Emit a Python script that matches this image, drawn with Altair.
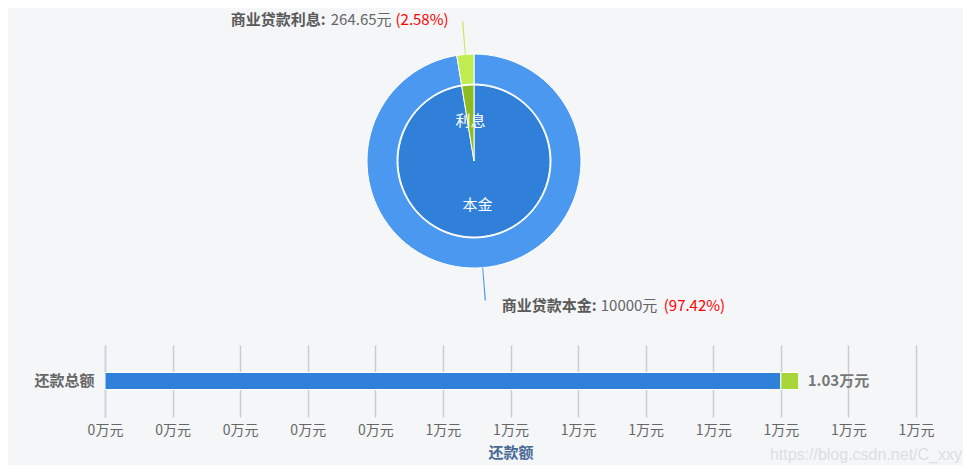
import math
import altair as alt
import pandas as pd

# ---------------- data ----------------
names = ["商业贷款本金", "商业贷款利息"]
short_names = ["本金", "利息"]
amounts = [10000, 264.65]
bar_category = "还款总额"
tick_values = [0, 1000, 2000, 3000, 4000, 5000, 6000, 7000, 8000, 9000, 10000, 11000, 12000]
axis_max = 12000
watermark = "https://blog.csdn.net/C_xxy"

# ---------------- styles ----------------
FONT = "Noto Sans CJK SC"
outer_colors = ["#4a98ef", "#c1ec52"]
inner_colors = ["#307fd8", "#8cbb22"]
bar_colors = ["#307fd8", "#a6d63a"]

total = sum(amounts)
starts, ends = [], []
acc = 0.0
for a in amounts:
    starts.append(acc)
    acc += a
    ends.append(acc)

eps = total * 0.0007
df = pd.DataFrame({
    "name": names,
    "short": short_names,
    "amount": amounts,
    "start": starts,
    "end": ends,
    "mid": [(s + e) / 2 for s, e in zip(starts, ends)],
    "name_txt": [n + ":" for n in names],
    "val_txt": [f"{a:g}元" for a in amounts],
    "pct_txt": [f"({a / total * 100:.2f}%)" for a in amounts],
    "cat": [bar_category] * len(names),
})
df["lead0"] = df["mid"] - eps
df["lead1"] = df["mid"] + eps

theta_scale = alt.Scale(domain=[0, total], range=[0, 2 * math.pi])
base = alt.Chart(df)

outer = base.mark_arc(outerRadius=107, innerRadius=77, stroke="white", strokeWidth=1).encode(
    theta=alt.Theta("start:Q", scale=theta_scale),
    theta2="end:Q",
    color=alt.Color("name:N", scale=alt.Scale(domain=names, range=outer_colors), legend=None),
)
inner = base.mark_arc(outerRadius=76, innerRadius=0, stroke="white", strokeWidth=1).encode(
    theta=alt.Theta("start:Q", scale=theta_scale),
    theta2="end:Q",
    color=alt.Color("name:N", scale=alt.Scale(domain=names, range=inner_colors), legend=None),
)
inner_labels = base.mark_text(radius=42, color="white", fontSize=15, font=FONT, dy=2).encode(
    theta=alt.Theta("mid:Q", scale=theta_scale),
    text="short:N",
)
leaders = base.mark_arc(outerRadius=140, innerRadius=107).encode(
    theta=alt.Theta("lead0:Q", scale=theta_scale),
    theta2="lead1:Q",
    color=alt.Color("name:N", scale=alt.Scale(domain=names, range=outer_colors), legend=None),
)

layers = [outer, inner, inner_labels, leaders]

# label piece layout per slice: (anchor radius, align, [(field, dx, color, weight)])
label_layout = {
    names[0]: (145, "left", [("name_txt", 16, "#5a5a5a", "bold"),
                             ("val_txt", 115, "#666666", "normal"),
                             ("pct_txt", 178, "#ff0000", "normal")]),
    names[1]: (141, "right", [("pct_txt", -14, "#ff0000", "normal"),
                              ("val_txt", -71, "#666666", "normal"),
                              ("name_txt", -137, "#5a5a5a", "bold")]),
}
for nm, (rad, al, pieces) in label_layout.items():
    for field, dx, col, wt in pieces:
        layers.append(
            base.transform_filter(alt.datum.name == nm).mark_text(
                radius=rad, align=al, baseline="middle", dx=dx, color=col,
                fontWeight=wt, fontSize=15, font=FONT,
            ).encode(
                theta=alt.Theta("mid:Q", scale=theta_scale),
                text=f"{field}:N",
            )
        )

pie = alt.layer(*layers).resolve_scale(color="independent").properties(width=738, height=296)

# ---------------- bar ----------------
bar = base.mark_bar(size=17, stroke="white", strokeWidth=1).encode(
    y=alt.Y("cat:N", axis=alt.Axis(title=None, labelFontSize=15, labelFontWeight="bold",
                                   labelColor="#666666", ticks=False, domainColor="#c5d5e6",
                                   domainWidth=1.5, labelPadding=11, grid=False)),
    x=alt.X("start:Q", scale=alt.Scale(domain=[0, axis_max], nice=False),
            axis=alt.Axis(values=tick_values,
                          labelExpr="round(datum.value/10000) + '万元'",
                          labelFlush=False, labelOverlap=False,
                          grid=True, gridColor="#cccccc", gridWidth=1.5,
                          ticks=False, domain=False, labelFontSize=14,
                          labelColor="#666666", labelPadding=6,
                          title="还款额", titleFontSize=15, titleFontWeight="bold",
                          titleColor="#4a6a96", titlePadding=8)),
    x2="end:Q",
    color=alt.Color("name:N", scale=alt.Scale(domain=names, range=bar_colors), legend=None),
)

total_df = pd.DataFrame({"cat": [bar_category], "total": [total],
                         "txt": [f"{total / 10000:.2f}万元"]})
total_label = alt.Chart(total_df).mark_text(
    align="left", dx=9, fontWeight="bold", fontSize=15, color="#777777", font=FONT
).encode(x="total:Q", y="cat:N", text="txt:N")

wm = alt.Chart(pd.DataFrame({"t": [watermark]})).mark_text(
    align="right", baseline="middle", fontSize=16, color="#dcdee2", font="Liberation Sans"
).encode(text="t:N", x=alt.value(857), y=alt.value(110))

bar_chart = alt.layer(bar, total_label, wm).properties(width=811, height=72)

chart = alt.vconcat(pie, bar_chart, spacing=31).properties(
    padding={"left": 25, "top": 5, "right": 1, "bottom": 2}
).configure(
    background="#f4f6f8"
).configure_view(stroke=None).configure_axis(labelFont=FONT, titleFont=FONT)

chart.save("out.html", embed_options={"renderer": "svg", "actions": False})
